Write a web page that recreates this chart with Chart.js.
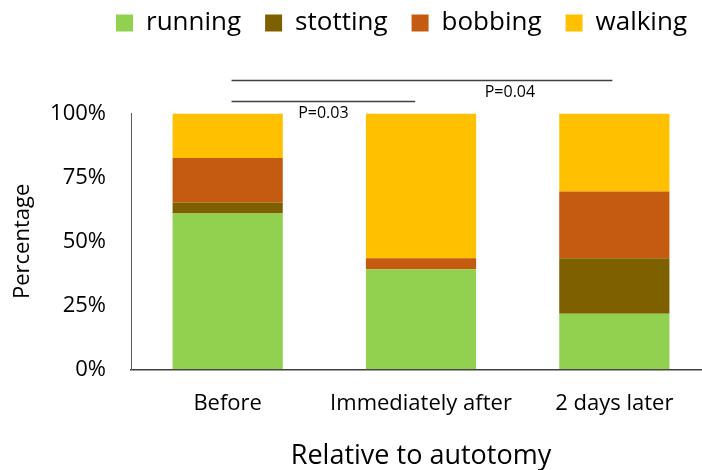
<!DOCTYPE html>
<html>
<head>
<meta charset="utf-8">
<script src="https://cdn.jsdelivr.net/npm/chart.js@4.4.1/dist/chart.umd.min.js"></script>
<style>
  html, body { margin: 0; padding: 0; background: #fff; overflow: hidden; }
  /* plot area of the original runs a few px past the right edge of the picture */
  #wrap { width: 711px; height: 470px; }
</style>
</head>
<body>
<div id="wrap"><canvas id="chart"></canvas></div>
<script>
const categories = ["Before", "Immediately after", "2 days later"];
const running = [60.9, 39.1, 21.7];
const stotting = [4.3, 0, 21.7];
const bobbing = [17.4, 4.3, 26.1];
const walking = [17.4, 56.6, 30.5];
const yTicks = [0, 25, 50, 75, 100];

// significance brackets (category index / percent units)
const sigText = ["P=0.03", "P=0.04"];
const sigFrom = [0.02, 0.02];
const sigTo = [0.97, 1.99];
const sigLevel = [104.8, 113];
const sigTextAt = [0.495, 1.46];

const sigPlugin = {
  id: "sig",
  afterDatasetsDraw(chart) {
    const ctx = chart.ctx;
    const x = chart.scales.x;
    const y = chart.scales.y;
    ctx.save();
    ctx.strokeStyle = "#404040";
    ctx.lineWidth = 1.5;
    ctx.fillStyle = "#000";
    ctx.font = "16px 'Open Sans'";
    ctx.textAlign = "center";
    ctx.textBaseline = "middle";
    for (let i = 0; i < sigText.length; i++) {
      const py = Math.round(y.getPixelForValue(sigLevel[i])) + 0.5;
      ctx.beginPath();
      ctx.moveTo(x.getPixelForValue(sigFrom[i]), py);
      ctx.lineTo(x.getPixelForValue(sigTo[i]), py);
      ctx.stroke();
      ctx.fillText(sigText[i], x.getPixelForValue(sigTextAt[i]), py + 12);
    }
    ctx.restore();
  }
};

Chart.defaults.font.family = "'Open Sans', sans-serif";
Chart.defaults.color = "#000";

new Chart(document.getElementById("chart"), {
  type: "bar",
  data: {
    labels: categories,
    datasets: [
      { label: "running", data: running, backgroundColor: "#92D050" },
      { label: "stotting", data: stotting, backgroundColor: "#7F6000" },
      { label: "bobbing", data: bobbing, backgroundColor: "#C55A11" },
      { label: "walking", data: walking, backgroundColor: "#FFC000" },
    ],
  },
  options: {
    responsive: true,
    maintainAspectRatio: false,
    animation: false,
    layout: { padding: { top: -14, right: 0, left: 0, bottom: 0 } },
    datasets: { bar: { categoryPercentage: 1, barPercentage: 0.57, borderWidth: 0 } },
    plugins: {
      legend: {
        position: "top",
        align: "end",
        labels: {
          boxWidth: 17,
          boxHeight: 17,
          padding: 24,
          font: { size: 26 },
          color: "#000",
        },
      },
      // empty spacer between legend and plot (room for the P-value brackets)
      title: { display: true, text: "", weight: 100, padding: { top: 0, bottom: 53 }, font: { size: 12 } },
      tooltip: { enabled: false },
    },
    scales: {
      x: {
        stacked: true,
        grid: { display: false, drawTicks: false },
        border: { display: true, color: "#404040", width: 1.5 },
        ticks: { padding: 21, font: { size: 22 }, color: "#000" },
        title: {
          display: true,
          text: "Relative to autotomy",
          font: { size: 27 },
          color: "#000",
          padding: { top: 0, bottom: -3 },
        },
        afterFit(scale) { scale.height = 100.7; },
      },
      y: {
        stacked: true,
        min: 0,
        max: 100,
        grid: { display: false, drawTicks: false },
        border: { display: true, color: "#595959", width: 1 },
        afterBuildTicks(scale) { scale.ticks = yTicks.map(v => ({ value: v })); },
        ticks: {
          padding: 25,
          font: { size: 22 },
          color: "#000",
          callback: v => v + "%",
        },
        title: {
          display: true,
          text: "Percentage",
          font: { size: 22 },
          color: "#000",
          padding: { top: 10, bottom: 0 },
        },
        afterFit(scale) { scale.width = 131; },
      },
    },
  },
  plugins: [sigPlugin],
});
</script>
</body>
</html>
